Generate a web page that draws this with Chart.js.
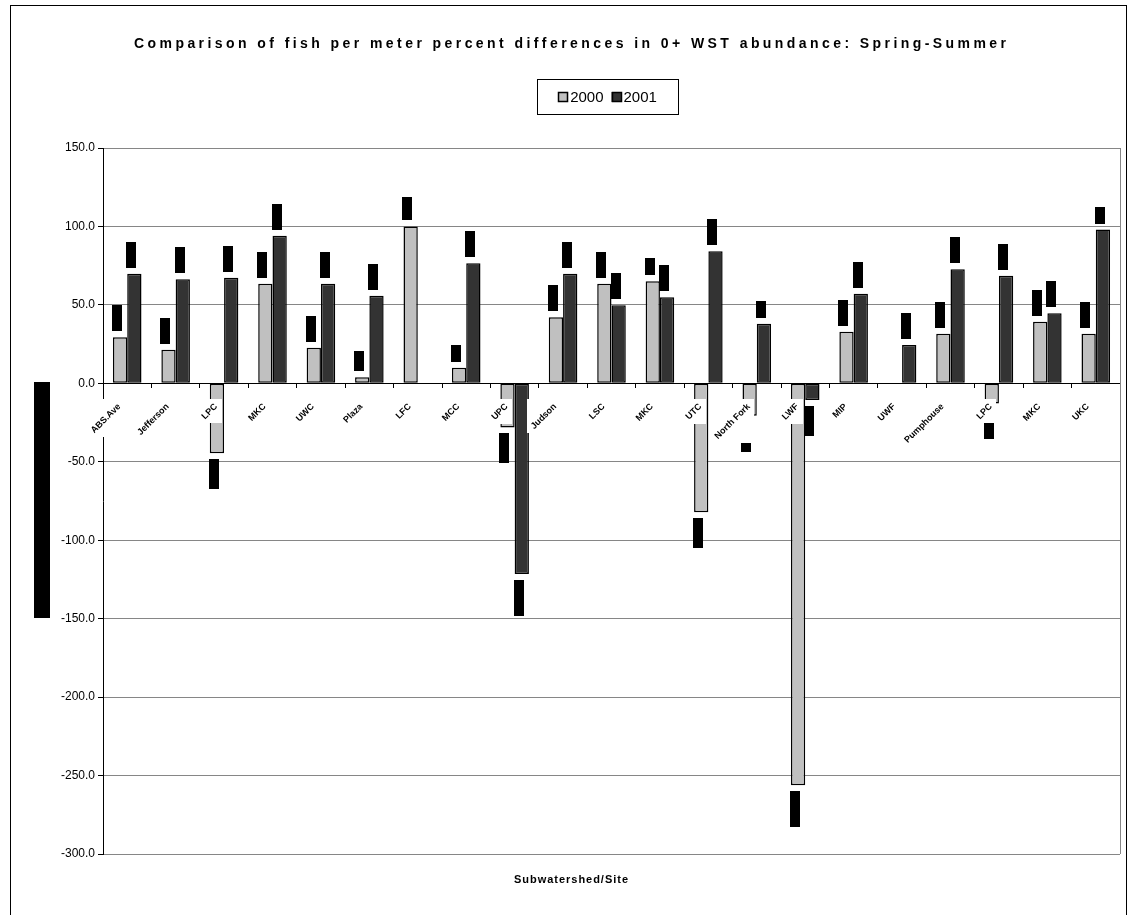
<!DOCTYPE html>
<html>
<head>
<meta charset="utf-8">
<title>0+ WST abundance: Spring-Summer</title>
<script src="https://cdn.jsdelivr.net/npm/chart.js@4/dist/chart.umd.min.js"></script>
<style>
  html, body { margin: 0; padding: 0; background: #ffffff; }
  #wrap { width: 1129px; height: 915px; position: relative; }
</style>
</head>
<body>
<div id="wrap"><canvas id="chart" width="1129" height="915"></canvas></div>
<script>
// Sites along the x axis
const categories = [
  'ABS.Ave', 'Jefferson', 'LPC', 'MKC', 'UWC', 'Plaza', 'LFC', 'MCC', 'UPC', 'Judson',
  'LSC', 'MKC', 'UTC', 'North Fork', 'LWF', 'MIP', 'UWF', 'Pumphouse', 'LPC', 'MKC', 'UKC'
];
// Percent differences in fish per meter, spring to summer
const values2000 = [29.3, 21.4, -44.6, 63.5, 22.7, 3.8, 100.0, 10.0, -28.1, 42.1,
                    63.5, 65.0, -82.1, -20.7, -256.2, 32.9, null, 31.6, -12.8, 39.3, 31.6];
const values2001 = [69.9, 66.3, 67.3, 94.1, 63.5, 55.9, null, 76.5, -121.6, 69.9,
                    49.7, 54.8, 84.2, 38.0, -10.6, 57.1, 24.4, 72.7, 68.6, 44.6, 98.0];
const seriesNames = ['2000', '2001'];
const yTicks = { min: -300, max: 150, step: 50 };

const chartTitle = 'Comparison of fish per meter percent differences in 0+ WST abundance: Spring-Summer';
const xTitle = 'Subwatershed/Site';
const yTitle = 'Percent Difference';

const LABEL_SIZE = 9;
const LABEL_FONT = 'bold ' + LABEL_SIZE + 'px Arial';
const LABEL_SHIFT = -8;   // rotated site labels sit just left of their tick
const LABEL_PAD = 14;

// text with stretched letter spacing so it spans a given width
function spacedText(ctx, text, font, cx, cy, targetWidth) {
  ctx.save();
  ctx.font = font;
  ctx.letterSpacing = '0px';
  const w = ctx.measureText(text).width;
  const sp = Math.max(0, (targetWidth - w) / (text.length - 1));
  ctx.letterSpacing = sp + 'px';
  const total = w + sp * (text.length - 1);
  ctx.textAlign = 'left';
  ctx.textBaseline = 'middle';
  ctx.fillStyle = '#000';
  ctx.fillText(text, cx - total / 2, cy);
  ctx.restore();
}

const decorations = {
  id: 'decorations',
  beforeDraw(chart) {
    const ctx = chart.ctx;
    ctx.save();
    ctx.fillStyle = '#ffffff';
    ctx.fillRect(0, 0, chart.width, chart.height);
    ctx.strokeStyle = '#000';
    ctx.lineWidth = 1;
    ctx.strokeRect(10.5, 5.5, 1116, 930);
    ctx.restore();
  },
  afterDatasetsDraw(chart) {
    const ctx = chart.ctx;
    ctx.save();
    // value tags: solid black tag beyond each bar end, sized by the value's text
    ctx.font = 'bold 11px Arial';
    ctx.fillStyle = '#000';
    chart.data.datasets.forEach((ds, di) => {
      const meta = chart.getDatasetMeta(di);
      meta.data.forEach((bar, i) => {
        const v = ds.data[i];
        if (v === null || v === undefined) return;
        const h = Math.round(ctx.measureText(String(v)).width + 5);
        const left = Math.round(bar.x - bar.width / 2 - 1);
        const top = Math.round(v >= 0 ? bar.y - 6 - h : bar.y + 6);
        ctx.fillRect(left, top, 10, h);
      });
    });
    // white boxes behind the rotated site labels
    const xs = chart.scales.x;
    const ys = chart.scales.y;
    const zeroY = ys.getPixelForValue(0);
    ctx.font = LABEL_FONT;
    const lh = LABEL_SIZE * 1.2;
    const c = Math.SQRT1_2;
    categories.forEach((lab, i) => {
      const w = ctx.measureText(lab).width;
      const px = xs.getPixelForTick(i) + LABEL_SHIFT;
      const py = zeroY + 4 + LABEL_PAD + c * lh / 2;
      const x0 = px - c * w - c * lh / 2 - 2;
      const x1 = px + c * lh / 2 + 2;
      const y0 = py - c * lh / 2 - 2;
      const y1 = py + c * w + c * lh / 2 + 2;
      ctx.fillStyle = '#ffffff';
      ctx.fillRect(Math.round(x0), Math.round(y0), Math.round(x1 - x0), Math.round(y1 - y0));
    });
    ctx.restore();
  },
  afterDraw(chart) {
    const ctx = chart.ctx;
    const area = chart.chartArea;
    ctx.save();
    // right edge of the plot area
    ctx.strokeStyle = '#868686';
    ctx.lineWidth = 1;
    ctx.beginPath();
    ctx.moveTo(Math.round(area.right) + 0.5, area.top);
    ctx.lineTo(Math.round(area.right) + 0.5, area.bottom);
    ctx.stroke();

    // chart title and x axis title
    spacedText(ctx, chartTitle, 'bold 14px Arial', 570, 44, 872);
    spacedText(ctx, xTitle, 'bold 11px Arial', 571, 880, 114);

    // y axis title in its black tag
    ctx.fillStyle = '#000';
    ctx.fillRect(34, 382, 16, 236);
    ctx.save();
    ctx.translate(42, 500);
    ctx.rotate(-Math.PI / 2);
    ctx.font = 'bold 12px Arial';
    ctx.textAlign = 'center';
    ctx.textBaseline = 'middle';
    ctx.fillText(yTitle, 0, 0);
    ctx.restore();

    // legend
    const bx = 537, by = 79, bw = 141, bh = 35;
    ctx.fillStyle = '#fff';
    ctx.fillRect(bx, by, bw, bh);
    ctx.strokeStyle = '#000';
    ctx.strokeRect(bx + 0.5, by + 0.5, bw, bh);
    ctx.font = '15px Arial';
    const sq = 10, gap = 2, itemGap = 8;
    const widths = seriesNames.map(n => sq + gap + ctx.measureText(n).width);
    const totalW = widths.reduce((a, b) => a + b, 0) + itemGap;
    let x = bx + (bw - totalW) / 2;
    const cy = by + bh / 2 + 0.5;
    chart.data.datasets.forEach((ds, i) => {
      ctx.fillStyle = ds.backgroundColor;
      ctx.fillRect(x, cy - sq / 2, sq, sq);
      ctx.strokeStyle = '#000';
      ctx.lineWidth = 1.5;
      ctx.strokeRect(Math.round(x) + 0.5, Math.round(cy - sq / 2) + 0.5, sq - 1, sq - 1);
      ctx.fillStyle = '#000';
      ctx.textAlign = 'left';
      ctx.textBaseline = 'middle';
      ctx.fillText(seriesNames[i], x + sq + gap, cy + 1);
      x += widths[i] + itemGap;
    });
    ctx.restore();
  }
};

new Chart(document.getElementById('chart'), {
  type: 'bar',
  data: {
    labels: categories,
    datasets: [
      { label: seriesNames[0], data: values2000, backgroundColor: '#c0c0c0',
        borderColor: '#000', borderWidth: 1.5, borderSkipped: false,
        barPercentage: 1.0, categoryPercentage: 0.59 },
      { label: seriesNames[1], data: values2001, backgroundColor: '#333333',
        borderColor: '#000', borderWidth: 1.5, borderSkipped: false,
        barPercentage: 1.0, categoryPercentage: 0.59 }
    ]
  },
  options: {
    responsive: false,
    animation: false,
    devicePixelRatio: 1,
    layout: { padding: { left: 43, right: 9, top: 148, bottom: 61 } },
    plugins: {
      legend: { display: false },
      title: { display: false },
      tooltip: { enabled: false }
    },
    scales: {
      x: {
        position: { y: 0 },
        grid: { display: true, drawOnChartArea: false, drawTicks: true, tickLength: 4,
                tickColor: '#000', offset: true, z: 1 },
        border: { display: true, color: '#000', width: 1, z: 1 },
        ticks: {
          z: 2,
          autoSkip: false, minRotation: 45, maxRotation: 45,
          font: { family: 'Arial', size: LABEL_SIZE, weight: 'bold' },
          color: '#000', padding: LABEL_PAD, labelOffset: LABEL_SHIFT
        }
      },
      y: {
        min: yTicks.min, max: yTicks.max,
        afterFit(scale) { scale.width = 60; },
        grid: { color: '#868686', lineWidth: 1, tickLength: 5, tickColor: '#000' },
        border: { display: true, color: '#000', width: 1 },
        ticks: {
          stepSize: yTicks.step,
          color: '#000',
          font: { family: 'Arial', size: 12 },
          padding: 3,
          callback: v => Number(v).toFixed(1)
        }
      }
    }
  },
  plugins: [decorations]
});
</script>
</body>
</html>
